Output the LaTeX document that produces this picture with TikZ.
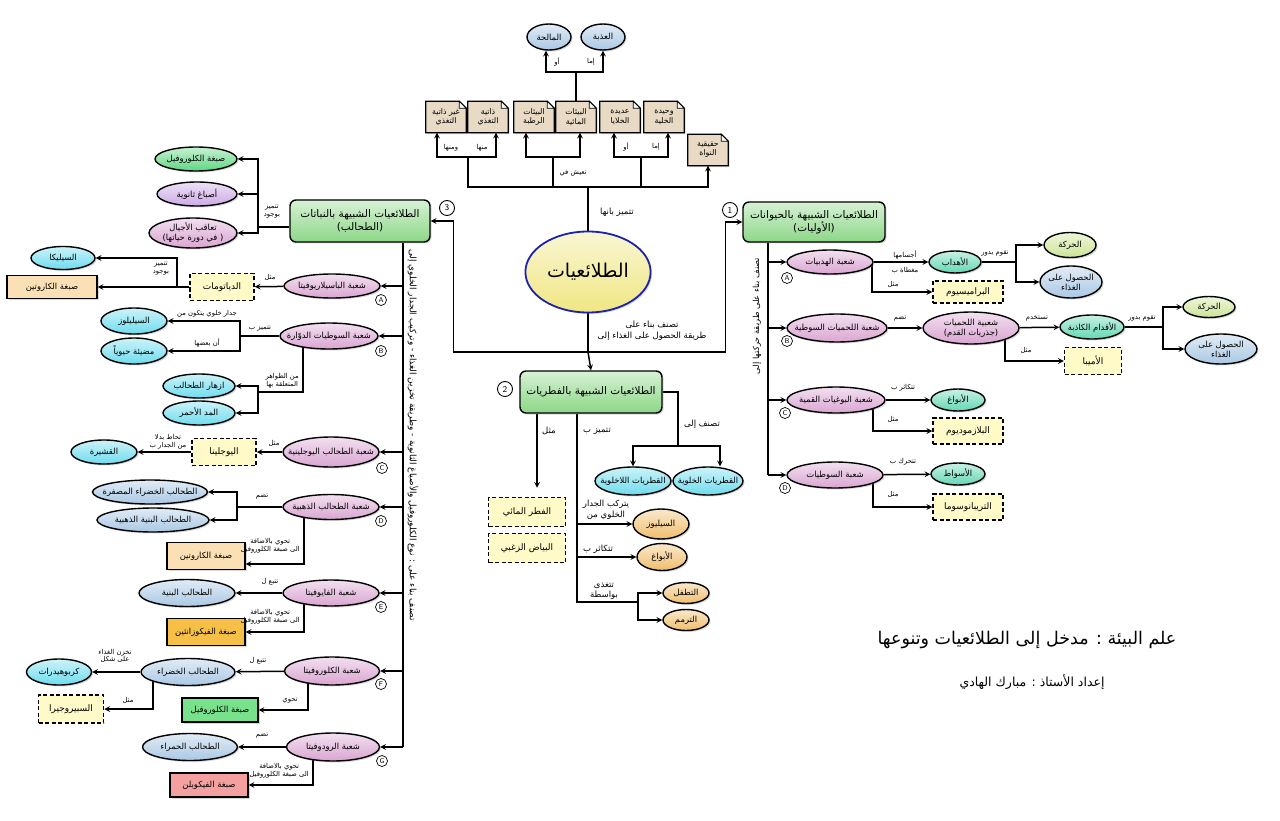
\documentclass[tikz,border=0pt]{standalone}
\usepackage{fontspec}
\newfontfamily\arabicfont[Script=Arabic]{DejaVu Sans}
\TeXXeTstate=1
\usepackage{tikz}
\usetikzlibrary{shapes.geometric,arrows,positioning,backgrounds,shadows}
\newcommand{\arb}[1]{\beginR #1\endR}

\definecolor{hdrgreen}{RGB}{140,215,135}
\definecolor{pinkc}{RGB}{218,165,210}
\definecolor{tealc}{RGB}{100,215,180}
\definecolor{cyanc}{RGB}{110,220,238}
\definecolor{lbluec}{RGB}{170,200,228}
\definecolor{lgreenc}{RGB}{205,228,150}
\definecolor{greenc}{RGB}{95,215,130}
\definecolor{purplec}{RGB}{205,170,230}
\definecolor{orangec}{RGB}{240,190,110}
\definecolor{yellowc}{RGB}{255,250,200}
\definecolor{notec}{RGB}{232,218,196}
\definecolor{tanc}{RGB}{250,224,180}
\definecolor{fucoc}{RGB}{246,192,70}
\definecolor{chlc}{RGB}{120,225,140}
\definecolor{phycoc}{RGB}{244,160,160}
\definecolor{mainyel}{RGB}{240,230,130}
\definecolor{mainblue}{RGB}{30,35,170}

\begin{document}
\begin{tikzpicture}[x=1pt, y=-1pt,
        base/.style={font=\arabicfont\fontsize{8.4}{10}\selectfont, align=center},
        sz/.style 2 args={minimum width=#1, minimum height=#2},
        grad/.style={top color=#1!35!white, bottom color=#1},
        shd/.style={drop shadow={shadow xshift=1.5pt, shadow yshift=-1.5pt, opacity=.3}},
        ell/.style={base, ellipse, draw, line width=1.4pt, inner xsep=-9pt, inner ysep=-1pt, shd},
        hdr/.style={base, rectangle, rounded corners=6pt, draw, line width=1.4pt, grad=hdrgreen, font=\arabicfont\fontsize{10.5}{13}\selectfont, shd},
        dbox/.style={base, rectangle, draw, line width=1.5pt, dash pattern=on 4pt off 2.5pt, fill=yellowc, font=\arabicfont\fontsize{9}{10}\selectfont},
        pbox/.style={base, rectangle, draw, line width=1.3pt, shd},
        note/.style={base, rectangle, sz={40}{31}, inner sep=1pt, font=\arabicfont\fontsize{7.8}{9.5}\selectfont},
        lbl/.style={font=\arabicfont\fontsize{6.8}{7.8}\selectfont, align=center, inner sep=1pt},
        bigl/.style={lbl, font=\arabicfont\fontsize{8.5}{10.5}\selectfont},
        num/.style={circle, draw, line width=.9pt, minimum size=15pt, inner sep=0pt, font=\sffamily\small, fill=white},
        letr/.style={circle, draw, line width=.7pt, minimum size=11pt, inner sep=0pt, font=\sffamily\scriptsize, fill=white},
        arrow/.style={line width=1.5pt, ->, >=stealth},
        conn/.style={line width=1.5pt}
    ]
    \useasboundingbox (0,0) rectangle (1280,821);

    % Centre
    \node[ellipse, draw=mainblue, line width=1.8pt, grad=mainyel, sz={106}{81}, font=\arabicfont\fontsize{19}{22}\selectfont, shd] (main) at (588,272) {\arb{الطلائعيات}};
    \node[bigl] (tmain1) at (617,212) {\arb{تتميز بانها}};
    \node[bigl] (tmain2) at (652,331) {\arb{تصنف بناء على}\\\arb{طريقة الحصول على الغذاء إلى}};

    % Features (top)
    \node[note] (nonauto) at (446,117) {\arb{غير ذاتية}\\\arb{التغذي}};
    \node[note] (auto) at (488,117) {\arb{ذاتية}\\\arb{التغذي}};
    \node[note] (moist) at (534,117) {\arb{البيئات}\\\arb{الرطبة}};
    \node[note] (aqua) at (576,117) {\arb{البيئات}\\\arb{المائية}};
    \node[note] (multi) at (620,117) {\arb{عديدة}\\\arb{الخلايا}};
    \node[note] (uni) at (664,117) {\arb{وحيدة}\\\arb{الخلية}};
    \node[note] (nucleus) at (708,150) {\arb{حقيقية}\\\arb{النواة}};
    \node[ell, grad=lbluec, sz={44}{26}] (fresh) at (603,37) {\arb{العذبة}};
    \node[ell, grad=lbluec, sz={44}{26}] (salt) at (549,37) {\arb{المالحة}};
    \node[lbl] (tfresh) at (591,62) {\arb{إما}};
    \node[lbl] (tsalt) at (557,62) {\arb{أو}};
    \node[lbl] (tnon) at (451,148) {\arb{ومنها}};
    \node[lbl] (tauto) at (482,148) {\arb{منها}};
    \node[lbl] (tlive) at (573,173) {\arb{تعيش في}};
    \node[lbl] (tmulti) at (626,147) {\arb{أو}};
    \node[lbl] (tuni) at (656,147) {\arb{إما}};

    % Groups
    \node[hdr, sz={142}{40}] (animal) at (814,222) {\arb{الطلائعيات الشبيهة بالحيوانات}\\\arb{(الأوليات)}};
    \node[hdr, sz={140}{42}] (plant) at (360,221) {\arb{الطلائعيات الشبيهة بالنباتات}\\\arb{(الطحالب)}};
    \node[hdr, sz={142}{42}] (fungi) at (591,392) {\arb{الطلائعيات الشبيهة بالفطريات}};
    \node[num] (n1) at (730,210) {1};
    \node[num] (n2) at (505,389) {2};
    \node[num] (n3) at (447,208) {3};

    % Animal-like protists
    \node[lbl, rotate=90, font=\arabicfont\fontsize{8.3}{9}\selectfont] (tanimal) at (757,316) {\arb{تصنف بناء على طريقة حركتها إلى}};
    \node[ell, grad=pinkc, sz={86}{24}] (cil) at (830,262) {\arb{شعبة الهدبيات}};
    \node[ell, grad=pinkc, sz={100}{28}] (sar) at (837,328) {\arb{شعبة اللحميات السوطية}};
    \node[ell, grad=pinkc, sz={98}{26}] (api) at (836,400) {\arb{شعبة البوغيات القمية}};
    \node[ell, grad=pinkc, sz={96}{26}] (fla) at (835,475) {\arb{شعبة السوطيات}};
    \node[letr] (la1) at (787,278) {A};
    \node[letr] (lb1) at (787,341) {B};
    \node[letr] (lc1) at (785,413) {C};
    \node[letr] (ld1) at (785,488) {D};

    \node[ell, grad=tealc, sz={52}{22}] (cilia) at (955,262) {\arb{الأهداب}};
    \node[dbox, sz={70}{22}] (param) at (968,292) {\arb{البراميسيوم}};
    \node[ell, grad=lgreenc, sz={52}{25}] (mov1) at (1070,245) {\arb{الحركة}};
    \node[ell, grad=lbluec, sz={62}{32}] (food1) at (1071,282) {\arb{الحصول على}\\\arb{الغذاء}};
    \node[lbl] (tcil1) at (905,255) {\arb{أجسامها}};
    \node[lbl] (tcil2) at (905,270) {\arb{مغطاة ب}};
    \node[lbl] (tcil3) at (893,284) {\arb{مثل}};
    \node[lbl] (tcil4) at (995,253) {\arb{تقوم بدور}};

    \node[ell, grad=pinkc, sz={96}{32}] (rhiz) at (971,328) {\arb{شعبية اللحميات}\\\arb{(جذريات القدم)}};
    \node[ell, grad=tealc, sz={64}{24}] (pseu) at (1092,327) {\arb{الأقدام الكاذبة}};
    \node[ell, grad=lgreenc, sz={52}{21}] (mov2) at (1209,307) {\arb{الحركة}};
    \node[ell, grad=lbluec, sz={72}{30}] (food2) at (1221,349) {\arb{الحصول على}\\\arb{الغذاء}};
    \node[dbox, sz={57}{27}] (amoeba) at (1093,361) {\arb{الأميبا}};
    \node[lbl] (tsar1) at (900,319) {\arb{تضم}};
    \node[lbl] (tsar2) at (1037,318) {\arb{تستخدم}};
    \node[lbl] (tsar3) at (1142,318) {\arb{تقوم بدور}};
    \node[lbl] (tsar4) at (1026,350) {\arb{مثل}};

    \node[ell, grad=tealc, sz={54}{22}] (spores1) at (958,400) {\arb{الأبواغ}};
    \node[dbox, sz={70}{26}] (plasmo) at (968,431) {\arb{البلازموديوم}};
    \node[lbl] (tapi1) at (903,388) {\arb{تتكاثر ب}};
    \node[lbl] (tapi2) at (893,419) {\arb{مثل}};

    \node[ell, grad=tealc, sz={54}{22}] (flag) at (958,474) {\arb{الأسواط}};
    \node[dbox, sz={70}{26}] (tryp) at (968,507) {\arb{التريبانوسوما}};
    \node[lbl] (tfla1) at (903,462) {\arb{تتحرك ب}};
    \node[lbl] (tfla2) at (893,494) {\arb{مثل}};

    % Fungus-like protists
    \node[ell, grad=cyanc, sz={76}{28}] (acell) at (633,481) {\arb{القطريات اللاخلوية}};
    \node[ell, grad=cyanc, sz={70}{28}] (cell) at (708,481) {\arb{القطريات الخلوية}};
    \node[dbox, sz={77}{29}] (water) at (527,512) {\arb{الفطر المائي}};
    \node[dbox, sz={77}{29}] (mildew) at (527,548) {\arb{البياض الزغبي}};
    \node[ell, grad=orangec, sz={56}{30}] (cellul) at (661,524) {\arb{السيليوز}};
    \node[ell, grad=orangec, sz={50}{27}] (spores2) at (662,557) {\arb{الأبواغ}};
    \node[ell, grad=orangec, sz={46}{21}] (paras) at (686,593) {\arb{التطفل}};
    \node[ell, grad=orangec, sz={46}{21}] (sapro) at (686,620) {\arb{الترمم}};
    \node[bigl] (tfun1) at (702,424) {\arb{تصنف إلى}};
    \node[bigl] (tfun2) at (549,431) {\arb{مثل}};
    \node[bigl] (tfun3) at (597,431) {\arb{تتميز ب}};
    \node[bigl] (tfun4) at (606,510) {\arb{يتركب الجدار}\\\arb{الخلوي من}};
    \node[bigl] (tfun5) at (598,549) {\arb{تتكاثر ب}};
    \node[bigl] (tfun6) at (604,591) {\arb{تتغذى}\\\arb{بواسطة}};

    % Plant-like protists
    \node[ell, grad=greenc, sz={82}{24}] (chl) at (196,159) {\arb{صبغة الكلوروفيل}};
    \node[ell, grad=purplec, sz={80}{24}] (sec) at (197,194) {\arb{أصباغ ثانوية}};
    \node[ell, grad=pinkc, sz={88}{30}] (alt) at (193,233) {\arb{تعاقب الأجيال}\\\arb{( في دورة حياتها)}};
    \node[lbl] (tplant) at (272,212) {\arb{تتميز}\\\arb{بوجود}};
    \node[lbl, rotate=-90, font=\arabicfont\fontsize{8.9}{9.5}\selectfont] (talgae) at (413,435) {\arb{تصنف بناء على : نوع الكلوروفيل والأصباغ الثانوية - وطريقة تخزين الغذاء - وتركيب الجدار الخلوي إلى}};

    \node[ell, grad=pinkc, sz={96}{24}] (bac) at (332,286) {\arb{شعبة الباسيلاريوفيتا}};
    \node[ell, grad=pinkc, sz={98}{26}] (dino) at (329,336) {\arb{شعبة السوطيات الدوّارة}};
    \node[ell, grad=pinkc, sz={94}{30}] (eug) at (331,452) {\arb{شعبة الطحالب اليوجلينية}};
    \node[ell, grad=pinkc, sz={96}{25}] (gold) at (331,507) {\arb{شعبة الطحالب الذهبية}};
    \node[ell, grad=pinkc, sz={96}{26}] (phaeo) at (331,593) {\arb{شعبة الفايوفيتا}};
    \node[ell, grad=pinkc, sz={95}{28}] (chloro) at (332,671) {\arb{شعبة الكلوروفيتا}};
    \node[ell, grad=pinkc, sz={93}{28}] (rhodo) at (333,747) {\arb{شعبة الرودوفيتا}};
    \node[letr] (la3) at (381,300) {A};
    \node[letr] (lb3) at (381,351) {B};
    \node[letr] (lc3) at (382,468) {C};
    \node[letr] (ld3) at (381,521) {D};
    \node[letr] (le3) at (381,607) {E};
    \node[letr] (lf3) at (381,684) {F};
    \node[letr] (lg3) at (382,761) {G};

    \node[dbox, sz={64}{27}] (diat) at (222,287) {\arb{الدياتومات}};
    \node[ell, grad=cyanc, sz={64}{23}] (silica) at (63,258) {\arb{السيليكا}};
    \node[pbox, fill=tanc, sz={90}{23}] (carot1) at (52,287) {\arb{صبغة الكاروتين}};
    \node[lbl] (tbac1) at (270,277) {\arb{مثل}};
    \node[lbl] (tbac2) at (161,269) {\arb{تتميز}\\\arb{بوجود}};

    \node[ell, grad=cyanc, sz={66}{26}] (cellu) at (134,321) {\arb{السيليلوز}};
    \node[ell, grad=cyanc, sz={66}{26}] (biolum) at (134,351) {\arb{مضيئة حيوياً}};
    \node[ell, grad=cyanc, sz={72}{24}] (bloom) at (199,386) {\arb{ازهار الطحالب}};
    \node[ell, grad=cyanc, sz={72}{24}] (redtide) at (199,413) {\arb{المد الأحمر}};
    \node[lbl] (tdino1) at (260,329) {\arb{تتميز ب}};
    \node[lbl] (tdino2) at (207,314) {\arb{جدار خلوي يتكون من}};
    \node[lbl] (tdino3) at (207,343) {\arb{أن بعضها}};
    \node[lbl, anchor=east] (tdino4) at (300,381) {\arb{من الظواهر}\\\arb{المتعلقة بها}};

    \node[dbox, sz={64}{27}] (eugl) at (224,452) {\arb{اليوجلينا}};
    \node[ell, grad=cyanc, sz={66}{24}] (pell) at (104,452) {\arb{القشيرة}};
    \node[lbl] (teug1) at (274,443) {\arb{مثل}};
    \node[lbl] (teug2) at (168,442) {\arb{تحاط بدلا}\\\arb{من الجدار ب}};

    \node[ell, grad=lbluec, sz={115}{24}] (ygreen) at (150,492) {\arb{الطحالب الخضراء المصفرة}};
    \node[ell, grad=lbluec, sz={112}{24}] (gbrown) at (153,520) {\arb{الطحالب البنية الذهبية}};
    \node[pbox, fill=tanc, sz={78}{27}] (carot2) at (206,556) {\arb{صبغة الكاروتين}};
    \node[lbl] (tgold1) at (262,497) {\arb{تضم}};
    \node[lbl, anchor=east] (tgold2) at (301,546) {\arb{تحوي بالاضافة}\\\arb{الى صبغة الكلوروفيل}};

    \node[ell, grad=lbluec, sz={96}{27}] (brown) at (187,593) {\arb{الطحالب البنية}};
    \node[pbox, fill=fucoc, sz={78}{27}] (fuco) at (206,632) {\arb{صبغة الفيكوزانثين}};
    \node[lbl] (tphaeo1) at (270,582) {\arb{تتبع ل}};
    \node[lbl, anchor=east] (tphaeo2) at (301,617) {\arb{تحوي بالاضافة}\\\arb{الى صبغة الكلوروفيل}};

    \node[ell, grad=lbluec, sz={94}{27}] (greenal) at (188,672) {\arb{الطحالب الخضراء}};
    \node[ell, grad=cyanc, sz={65}{26}] (carb) at (59,672) {\arb{كربوهيدرات}};
    \node[dbox, sz={65}{28}] (spiro) at (71,709) {\arb{السبيروجيرا}};
    \node[pbox, fill=chlc, sz={76}{24}] (chlbox) at (220,710) {\arb{صبغة الكلوروفيل}};
    \node[lbl] (tchl1) at (258,661) {\arb{تتبع ل}};
    \node[lbl] (tchl2) at (115,656) {\arb{تخزن الغذاء}\\\arb{على شكل}};
    \node[lbl] (tchl3) at (128,700) {\arb{مثل}};
    \node[lbl] (tchl4) at (290,701) {\arb{تحوي}};

    \node[ell, grad=lbluec, sz={95}{27}] (redal) at (190,747) {\arb{الطحالب الحمراء}};
    \node[pbox, fill=phycoc, sz={78}{24}] (phyco) at (209,785) {\arb{صبغة الفيكوبلن}};
    \node[lbl] (trho1) at (262,736) {\arb{تضم}};
    \node[lbl, anchor=east] (trho2) at (310,771) {\arb{تحوي بالاضافة}\\\arb{الى صبغة الكلوروفيل}};

    % Title
    \node[font=\arabicfont\fontsize{17.5}{20}\selectfont] (title) at (1027,640) {\arb{علم البيئة : مدخل إلى الطلائعيات وتنوعها}};
    \node[font=\arabicfont\fontsize{12.5}{14}\selectfont] (author) at (1032,682) {\arb{إعداد الأستاذ : مبارك الهادي}};

    \begin{scope}[on background layer]
    \fill[white] (0,0) rectangle (1280,821);
    % folded notes
    \foreach \n in {nonauto,auto,moist,aqua,multi,uni,nucleus} {
        \filldraw[fill=notec, line width=1.3pt, shd] (\n.north west) -- ([xshift=-7pt]\n.north east) -- ([yshift=-7pt]\n.north east) -- (\n.south east) -- (\n.south west) -- cycle;
        \draw[line width=.9pt, fill=white] ([xshift=-7pt]\n.north east) -- ([xshift=-7pt,yshift=-7pt]\n.north east) -- ([yshift=-7pt]\n.north east) -- cycle;
    }
    % Top tree
    \coordinate (tj) at (588,187);
    \coordinate (jt) at (468,157);
    \coordinate (jh) at (553,157);
    \coordinate (jc) at (641,157);
    \coordinate (jw) at (576,72);
    \draw[conn] (main.north) -- (tj);
    \draw[conn] (tj) -| (jt);
    \draw[conn] (jh |- tj) -- (jh);
    \draw[conn] (jc |- tj) -- (jc);
    \draw[arrow] (tj) -| (nucleus.south);
    \draw[arrow] (jt) -| ([xshift=-9pt]nonauto.south);
    \draw[arrow] (jt) -| ([xshift=8pt]auto.south);
    \draw[arrow] (jh) -| ([xshift=-8pt]moist.south);
    \draw[arrow] (jh) -| ([xshift=4pt]aqua.south);
    \draw[arrow] (jc) -| ([xshift=-6pt]multi.south);
    \draw[arrow] (jc) -| ([xshift=4pt]uni.south);
    \draw[conn] (aqua.north) -- (jw);
    \draw[arrow] (jw) -| (fresh.south);
    \draw[arrow] (jw) -| ([xshift=-3pt]salt.south);
    % Centre to groups
    \coordinate (mj) at (588,352);
    \draw[conn] (main.south) -- (mj);
    \draw[arrow] (mj) -- (fungi.north);
    \draw[arrow] (mj) -| ([xshift=23pt]plant.east) -- (plant.east);
    \draw[arrow] (mj) -| ([xshift=-17pt]animal.west) -- (animal.west);

    % Animal-like
    \coordinate (rt) at (768,475);
    \draw[conn] ([xshift=-46pt]animal.south) -- (rt);
    \draw[arrow] (cil.west -| rt) -- (cil.west);
    \draw[arrow] (sar.west -| rt) -- (sar.west);
    \draw[arrow] (api.west -| rt) -- (api.west);
    \draw[arrow] (rt) -- (fla.west);
    \draw[arrow] (cil) -- (cilia);
    \draw[arrow] ([xshift=42pt]cil.center) |- (param.west);
    \coordinate (cf) at (1016,262);
    \draw[conn] (cilia.east) -- (cf);
    \draw[arrow] (cf) |- (mov1.west);
    \draw[arrow] (cf) |- (food1.west);
    \draw[arrow] (sar) -- (rhiz);
    \draw[arrow] (rhiz) -- (pseu);
    \coordinate (pf) at (1163,327);
    \draw[conn] (pseu.east) -- (pf);
    \draw[arrow] (pf) |- (mov2.west);
    \draw[arrow] (pf) |- (food2.west);
    \draw[arrow] ([xshift=34pt]rhiz.center) |- (amoeba.west);
    \draw[arrow] (api) -- (spores1);
    \draw[arrow] ([xshift=37pt]api.center) |- (plasmo.west);
    \draw[arrow] (fla) -- (flag);
    \draw[arrow] ([xshift=38pt]fla.center) |- (tryp.west);

    % Fungus-like
    \coordinate (fc) at (678,446);
    \draw[conn] (fungi.east) -| (fc);
    \draw[arrow] (fc) -| (acell.north);
    \draw[arrow] (fc) -| ([xshift=12pt]cell.north);
    \draw[arrow, shorten >=9pt] ([xshift=-54pt]fungi.south) -- ([xshift=10pt]water.north);
    \coordinate (ft) at (577,602);
    \coordinate (ff) at (638,602);
    \draw[conn] ([xshift=-14pt]fungi.south) -- (ft) -- (ff);
    \draw[arrow] (cellul.west -| ft) -- (cellul.west);
    \draw[arrow] (spores2.west -| ft) -- (spores2.west);
    \draw[arrow] (ff) |- (paras.west);
    \draw[arrow] (ff) |- (sapro.west);

    % Plant-like
    \coordinate (pk) at (258,227);
    \draw[conn] (plant.west |- pk) -- (pk);
    \draw[arrow] (pk) |- (chl.east);
    \draw[arrow] (pk) |- (sec.east);
    \draw[arrow] (pk) |- (alt.east);
    \coordinate (lt) at (403,747);
    \draw[conn] ([xshift=43pt]plant.south) -- (lt);
    \foreach \d in {bac,dino,eug,gold,phaeo,chloro}
        \draw[arrow] (\d.east -| lt) -- (\d.east);
    \draw[arrow] (lt) -- (rhodo.east);

    \draw[arrow] (bac) -- (diat);
    \coordinate (dk) at (177,287);
    \draw[conn] (diat.west) -- (dk);
    \draw[arrow] (dk) |- (silica.east);
    \draw[arrow] (dk) -- (carot1.east);

    \coordinate (dk2) at (240,336);
    \draw[conn] (dino.west) -- (dk2);
    \draw[arrow] (dk2) |- (cellu.east);
    \draw[arrow] (dk2) |- (biolum.east);
    \coordinate (dk3) at (258,392);
    \draw[conn] ([xshift=-26pt]dino.center) |- (dk3);
    \draw[arrow] (dk3) |- (bloom.east);
    \draw[arrow] (dk3) |- (redtide.east);

    \draw[arrow] (eug) -- (eugl);
    \draw[arrow] (eugl) -- (pell);

    \coordinate (dk4) at (237,507);
    \draw[conn] (gold.west) -- (dk4);
    \draw[arrow] (dk4) |- (ygreen.east);
    \draw[arrow] (dk4) |- (gbrown.east);
    \draw[arrow] ([xshift=-27pt]gold.center) |- ([yshift=-8pt]carot2.east);

    \draw[arrow] (phaeo) -- (brown);
    \draw[arrow] ([xshift=-27pt]phaeo.center) |- (fuco.east);

    \draw[arrow] (chloro) -- (greenal);
    \draw[arrow] (greenal) -- (carb);
    \draw[arrow] ([xshift=-35pt]greenal.center) |- (spiro.east);
    \draw[arrow] ([xshift=-24pt]chloro.center) |- (chlbox.east);

    \draw[arrow] (rhodo) -- (redal);
    \draw[arrow] ([xshift=-20pt]rhodo.center) |- (phyco.east);
    \end{scope}
\end{tikzpicture}
\end{document}
